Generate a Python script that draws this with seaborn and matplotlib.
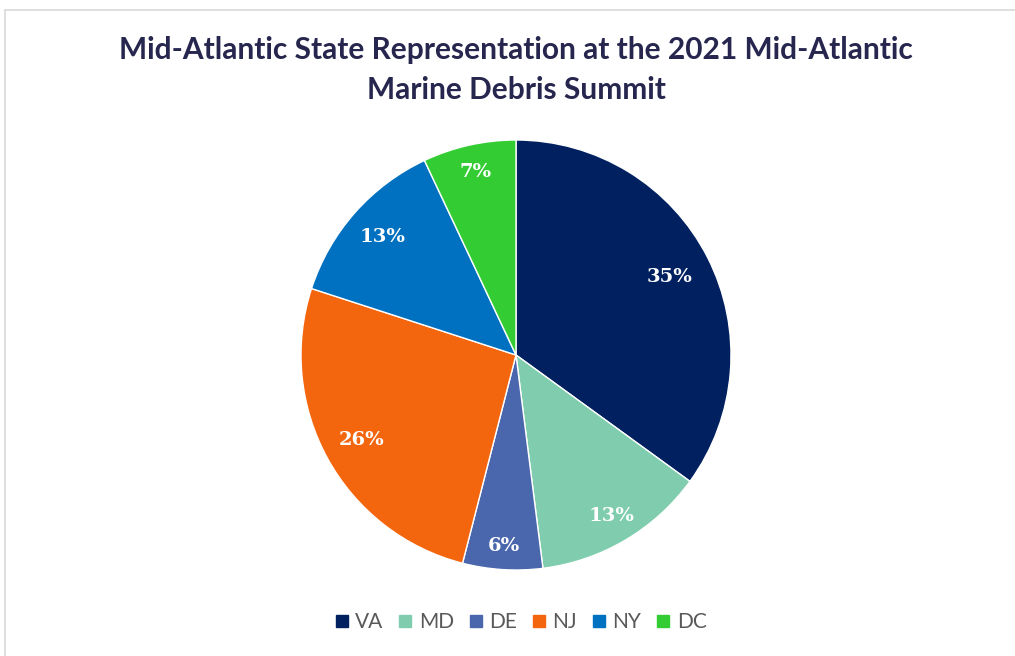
import matplotlib
matplotlib.use("Agg")
import matplotlib.pyplot as plt
from matplotlib.lines import Line2D
import numpy as np
import seaborn as sns

states = ["VA", "MD", "DE", "NJ", "NY", "DC"]
shares = [35, 13, 6, 26, 13, 7]
colors = ["#002060", "#7FCDAE", "#4A67AD", "#F4660E", "#0070C0", "#33CC33"]
label_dist = [0.80, 0.87, 0.89, 0.82, 0.83, 0.87]
title_lines = ["Mid-Atlantic State Representation at the 2021 Mid-Atlantic",
               "Marine Debris Summit"]

sns.set_theme(style="white")
plt.rcParams["font.family"] = ["Lato", "DejaVu Sans"]

W, H = 1015, 656
fig = plt.figure(figsize=(W / 100, H / 100), dpi=100)
fig.patch.set_facecolor("white")

cx, cy, r = 516, 355, 215
ax = fig.add_axes([(cx - r) / W, (H - cy - r) / H, 2 * r / W, 2 * r / H])
wedges, texts, autotexts = ax.pie(
    shares, colors=colors, startangle=90, counterclock=False,
    autopct="%d%%", pctdistance=0.85, radius=1,
    wedgeprops=dict(linewidth=1.0, edgecolor="white"),
    textprops=dict(color="white", fontsize=14, fontweight="bold",
                   family=["DejaVu Serif"]),
)
for w, t, d in zip(wedges, autotexts, label_dist):
    ang = np.deg2rad((w.theta1 + w.theta2) / 2)
    t.set_position((d * np.cos(ang), d * np.sin(ang)))
ax.set_xlim(-1, 1)
ax.set_ylim(-1, 1)
ax.set_aspect("auto")
ax.axis("off")

for line, y in zip(title_lines, [50, 90]):
    fig.text(cx / W, 1 - y / H, line, ha="center", va="center", fontsize=21.5,
             fontweight="bold", color="#26264E")

handles = [Line2D([0], [0], marker="s", linestyle="none", markersize=8.5,
                  markerfacecolor=c, markeredgecolor=c) for c in colors]
fig.legend(handles, states, loc="center", ncol=6, frameon=False,
           bbox_to_anchor=(521 / W, 1 - 622 / H), fontsize=15,
           labelcolor="#595959", handlelength=0.6, handletextpad=0.35,
           columnspacing=0.75)

fig.add_artist(Line2D([4.5 / W, 1], [1 - 9.5 / H, 1 - 9.5 / H], color="#D9D9D9", lw=1.2,
                      transform=fig.transFigure))
fig.add_artist(Line2D([4.5 / W, 4.5 / W], [0, 1 - 9.5 / H], color="#D9D9D9", lw=1.2,
                      transform=fig.transFigure))

fig.savefig("out.png", dpi=100, facecolor="white")
